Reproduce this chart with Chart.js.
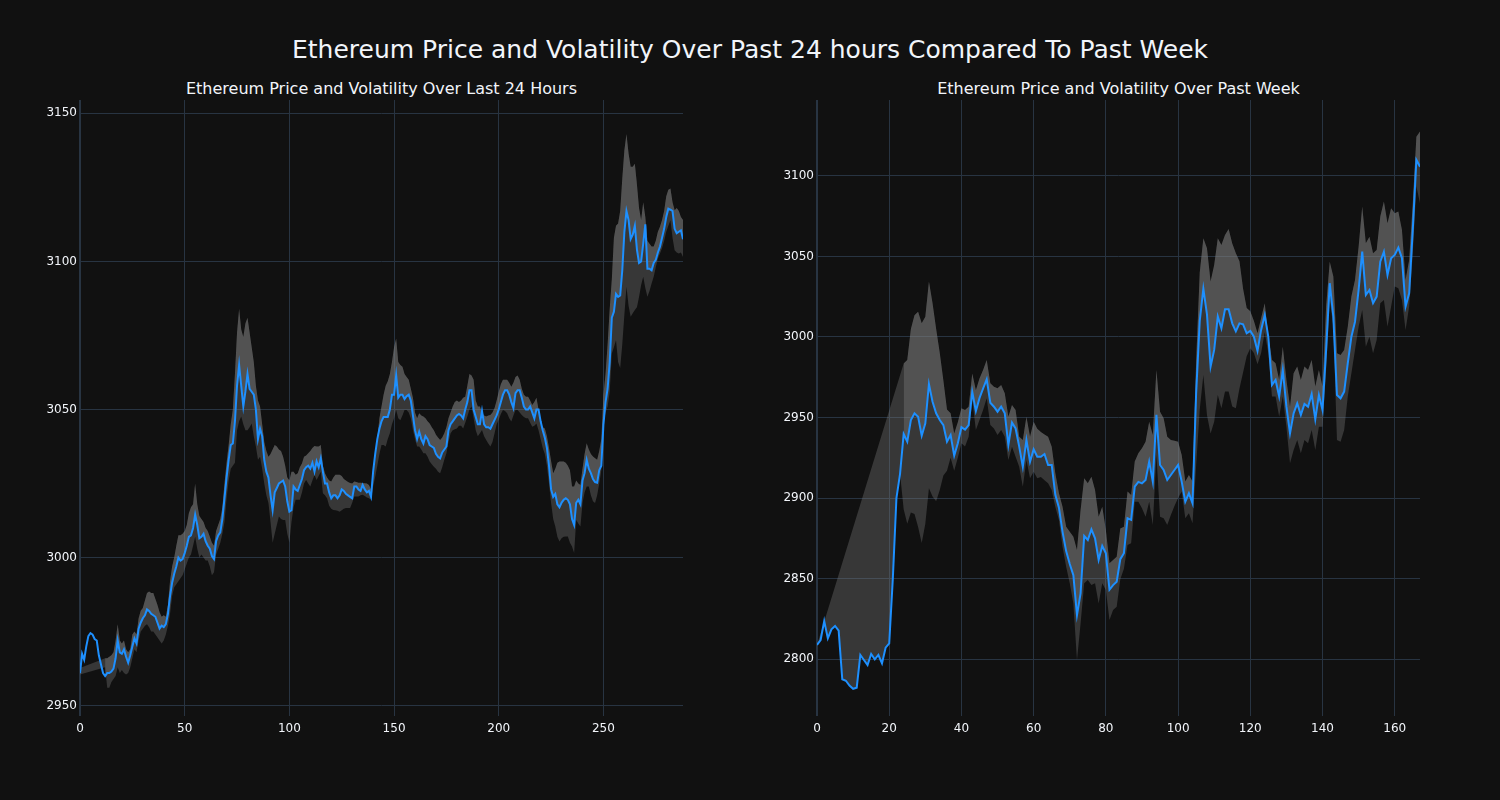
<!DOCTYPE html>
<html>
<head>
<meta charset="utf-8">
<script src="https://cdn.jsdelivr.net/npm/chart.js@4"></script>
<style>
  body { margin: 0; background: #111111; width: 1500px; height: 800px; overflow: hidden; font-family: 'DejaVu Sans', sans-serif; }
  .title { position: absolute; color: #f2f5fa; text-align: center; white-space: nowrap; }
  .box { position: absolute; top: 0; width: 750px; height: 800px; }
</style>
</head>
<body>
<div class="title" style="left:0;top:35px;width:1500px;font-size:25px;line-height:30px">Ethereum Price and Volatility Over Past 24 hours Compared To Past Week</div>
<div class="title" style="left:80px;top:79px;width:603px;font-size:16px;line-height:20px">Ethereum Price and Volatility Over Last 24 Hours</div>
<div class="title" style="left:817px;top:79px;width:603px;font-size:16px;line-height:20px">Ethereum Price and Volatility Over Past Week</div>
<div class="box" style="left:0"><canvas id="day"></canvas></div>
<div class="box" style="left:750px"><canvas id="week"></canvas></div>
<script>
// last 24 hours, 5 minute steps (index 0..288)
var dayPrice = [
  2961, 2967.5, 2965.5, 2970, 2973.5, 2974.5, 2974, 2972.5, 2972, 2967, 2964, 2961,
  2960, 2961, 2961, 2961.5, 2962.5, 2966, 2972, 2968, 2967.5, 2969, 2966.5, 2964.5,
  2967, 2970, 2972.7, 2971, 2976, 2978, 2979.5, 2980.5, 2982.5, 2982, 2981, 2980.5,
  2980, 2978, 2976, 2977, 2976.5, 2977.5, 2981, 2987, 2991.5, 2994.5, 2997, 3000,
  2999, 2999.5, 3001.5, 3004, 3007, 3007.5, 3010, 3014.5, 3011, 3006.5, 3007, 3008,
  3005.5, 3004, 3003, 3000.5, 2999.5, 3005.5, 3007.5, 3008.5, 3013, 3020, 3027, 3033,
  3038, 3038.5, 3046, 3058, 3065, 3058, 3051, 3056, 3062, 3057, 3056, 3055,
  3050, 3040, 3043.5, 3041, 3033, 3029, 3027, 3021, 3016, 3022, 3023.5, 3025,
  3025.5, 3026, 3024, 3019, 3015.5, 3016, 3024, 3023, 3022.5, 3024.5, 3026.5, 3029.5,
  3030.5, 3031, 3030, 3032, 3029, 3032.5, 3030.5, 3033.5, 3029, 3025, 3025, 3022,
  3020, 3021, 3021, 3020, 3021, 3023, 3022.5, 3021.5, 3021, 3020.5, 3020, 3024,
  3024, 3023, 3022.5, 3024.5, 3023, 3022, 3022.5, 3020.5, 3029, 3035, 3040, 3043.5,
  3046, 3047.5, 3047.5, 3047.5, 3050, 3055, 3055, 3061.5, 3054, 3055, 3055, 3053.5,
  3054.5, 3055, 3053, 3048, 3043, 3040, 3042.5, 3040, 3038.5, 3041, 3040, 3038,
  3037.5, 3037, 3035, 3034, 3033.5, 3035.5, 3036.5, 3037.5, 3043, 3045, 3046, 3047,
  3048, 3048.5, 3048, 3047, 3050, 3052.5, 3056.5, 3056.5, 3050, 3047.5, 3045, 3045,
  3049.5, 3045, 3044, 3044, 3043.5, 3045, 3046.5, 3048, 3050, 3052.5, 3055, 3056.5,
  3056.5, 3055, 3052.5, 3050.5, 3055.5, 3056.5, 3056.5, 3054, 3051, 3050, 3050, 3051,
  3049, 3047, 3050, 3050, 3046, 3043, 3040.5, 3037, 3031, 3023, 3020.5, 3021.5,
  3018, 3017, 3018.5, 3019.5, 3020, 3019.5, 3018, 3013, 3011, 3018.5, 3019.5, 3018,
  3026, 3028.5, 3033, 3030, 3028.5, 3026.5, 3025.5, 3025.3, 3029.5, 3031, 3045, 3052.5,
  3057, 3066, 3081, 3083, 3089, 3088, 3088.5, 3097, 3110, 3117, 3114, 3107.5,
  3109, 3112, 3104, 3099.5, 3100, 3106, 3112.5, 3097.5, 3097.5, 3097, 3099.5, 3100.5,
  3103, 3105, 3108, 3111, 3115, 3117.8, 3117.5, 3117, 3111, 3109.5, 3110, 3110.5, 3107.5
];
var dayUpper = [
  2962.7, null, null, null, null, null, null, null, null, null, null, null,
  2966, 2966, 2966.5, 2967, 2968, 2972, 2977.5, 2972, 2971, 2972, 2969, 2968,
  2969, 2974, 2975, 2974, 2979.5, 2982, 2983, 2985.5, 2988, 2988.5, 2988, 2988,
  2986, 2984, 2981.5, 2980, 2980.5, 2980, 2984, 2992, 2997, 3000, 3004, 3007.5,
  3007.5, 3008, 3009, 3011, 3015, 3017, 3018, 3025, 3018, 3014, 3013, 3012,
  3010, 3009, 3007, 3005, 3004, 3009, 3011, 3013, 3017, 3025, 3032, 3038,
  3045, 3050, 3062, 3076, 3084, 3077, 3074.5, 3079, 3081, 3076, 3071, 3066,
  3058, 3053, 3051, 3045, 3039, 3036, 3034, 3035, 3036.5, 3038, 3037.5, 3036.5,
  3036, 3034, 3031, 3027, 3026, 3029, 3029, 3028, 3028.5, 3030.5, 3031.8, 3034,
  3034.5, 3035.2, 3036, 3037, 3037.7, 3037.5, 3037.5, 3038, 3031, 3028.5, 3027, 3026,
  3025.7, 3027, 3028, 3028, 3028, 3027.5, 3026.5, 3026, 3025.5, 3025.2, 3025, 3025.7,
  3025.5, 3025.3, 3025.3, 3025.2, 3025.1, 3025, 3024.5, 3023, 3029, 3033, 3040, 3047,
  3051, 3055, 3058, 3059.5, 3062, 3066, 3071, 3074, 3066, 3065, 3064.4, 3062,
  3061, 3060, 3057, 3054, 3049, 3047, 3048.7, 3048, 3047.6, 3047, 3046, 3045.3,
  3044, 3043, 3041.5, 3040.5, 3039.7, 3040.5, 3042, 3044, 3047, 3049, 3051, 3052.5,
  3053, 3052.5, 3053, 3054, 3054.3, 3058, 3062, 3061.5, 3060, 3053, 3051, 3051,
  3049, 3048, 3047.6, 3048, 3048.1, 3049, 3050.5, 3053, 3056, 3058.5, 3060, 3060,
  3060, 3059, 3057.7, 3059, 3061, 3061.5, 3060, 3057, 3055, 3054.3, 3054.3, 3053,
  3051.5, 3052.5, 3054, 3050, 3046, 3044, 3043.6, 3041, 3037, 3032.5, 3028.5, 3030,
  3032, 3032.4, 3032.4, 3032.4, 3032, 3031, 3029.5, 3024, 3024, 3026, 3025, 3024.5,
  3030, 3035, 3038.6, 3036.5, 3035, 3034.1, 3033.5, 3033, 3036, 3040, 3055, 3062,
  3072, 3084, 3094, 3108, 3112, 3112.8, 3117, 3128, 3137.5, 3143, 3136.4, 3132,
  3132, 3133, 3126, 3118, 3114, 3120, 3115, 3107, 3106, 3105, 3105, 3107,
  3110, 3111.7, 3114, 3117, 3122, 3124.2, 3124.6, 3120, 3117.3, 3118, 3117, 3115, 3114
];
var dayLower = [
  2960.5, null, null, null, null, null, null, null, null, null, null, null,
  2963, 2956, 2956, 2958, 2959, 2960, 2963, 2961, 2962, 2961, 2960.5, 2961,
  2963, 2966, 2969, 2968, 2972, 2975, 2976, 2977, 2977.5, 2976.5, 2975, 2975,
  2974, 2973, 2972, 2971, 2972, 2974, 2977, 2981, 2987, 2990, 2991, 2992,
  2993, 2994, 2996, 2998, 3000, 3001, 3004, 3007, 3003, 3000, 3001, 3000,
  2999, 2999, 2997, 2994, 2995, 3001, 3003, 3005, 3008, 3012, 3020, 3026,
  3030, 3031, 3032, 3043, 3046, 3047.6, 3045, 3043, 3043, 3044, 3045.3, 3041,
  3037.5, 3033, 3034, 3030, 3025, 3021, 3018.4, 3012, 3005, 3008, 3011, 3013.9,
  3013, 3012.7, 3012.7, 3008, 3005, 3012, 3017, 3019.5, 3019.5, 3019.5, 3022, 3025,
  3026.2, 3025, 3024, 3026, 3027.9, 3026.2, 3027.5, 3029, 3021.7, 3021, 3020, 3017.5,
  3016.5, 3016.1, 3016, 3015.8, 3015.5, 3016, 3016.5, 3016.7, 3016.7, 3016.7, 3018.5, 3020.6,
  3020.6, 3020.6, 3021, 3021.2, 3020.8, 3020.3, 3020, 3019.5, 3024, 3027.3, 3031, 3035,
  3038, 3038, 3037.5, 3040, 3042, 3045, 3047, 3049.8, 3047, 3046.4, 3048, 3049.8,
  3049.8, 3049, 3047, 3043.1, 3040, 3037.5, 3037.5, 3036.5, 3035.2, 3035.2, 3034, 3032.4,
  3031.5, 3030.7, 3030, 3029, 3028.5, 3030.5, 3033, 3035.2, 3039, 3042, 3043, 3043.3,
  3043.6, 3044.5, 3044.5, 3043.6, 3045.5, 3047.6, 3050, 3051, 3047, 3043, 3041, 3042,
  3043.1, 3041, 3039.7, 3038.5, 3037.5, 3039, 3042, 3045, 3046.5, 3048.5, 3049.8, 3049.5,
  3048.7, 3047, 3045.9, 3048, 3049.8, 3049.8, 3049, 3048.1, 3047.5, 3047, 3047, 3045.5,
  3044.2, 3044.5, 3045.3, 3043, 3040, 3037, 3035, 3031, 3025, 3018.4, 3013, 3010.5,
  3007, 3005.4, 3006.5, 3007, 3007.1, 3007.1, 3005, 3003.7, 3001.5, 3012.7, 3011.5, 3010.5,
  3018.4, 3022, 3024, 3024, 3021, 3019, 3018.4, 3021, 3025, 3029.6, 3045, 3049,
  3051, 3056, 3068.9, 3071, 3073.4, 3066, 3064, 3072, 3082, 3091.4, 3085, 3081.3,
  3082.5, 3083.6, 3084.5, 3088, 3092, 3094.8, 3091, 3088.1, 3090, 3092.5, 3094.8, 3098,
  3101, 3102.7, 3104.5, 3107, 3110, 3112, 3113.9, 3108, 3103.8, 3103, 3102.7, 3103, 3101.5
];

// past week, hourly (index 0..167)
var weekPrice = [
  2808.7, 2811.8, 2823.5, 2812.8, 2818.4, 2820.5, 2817.6, 2787.4, 2786.5, 2783.5, 2781.5, 2782.2,
  2802.5, 2799.4, 2796.3, 2803.1, 2799.8, 2802.5, 2797.3, 2807, 2809.7, 2850, 2900, 2915,
  2939.7, 2935, 2948.4, 2952.6, 2950.5, 2938.7, 2946.4, 2970.8, 2959.8, 2952.6, 2948.4, 2945.3,
  2935, 2939.1, 2926.3, 2934, 2944, 2942.5, 2945.3, 2966, 2954, 2962, 2968, 2973.7,
  2959.2, 2956.7, 2953.6, 2956.7, 2952.6, 2932.9, 2946.8, 2943.2, 2931.9, 2919.4, 2936, 2922.5,
  2930.2, 2925.6, 2925.6, 2927.3, 2920.5, 2920.5, 2902, 2894, 2879, 2867, 2859, 2852,
  2827.3, 2840.8, 2876.4, 2873.9, 2880.5, 2875, 2861.5, 2870.2, 2865.6, 2843, 2845.9, 2848,
  2862, 2865.7, 2887.4, 2886.4, 2907.1, 2910, 2909.1, 2911.2, 2922.6, 2910.2, 2951.6, 2920.5,
  2917.4, 2911.2, 2914.3, 2917.4, 2920.5, 2910.2, 2897.7, 2902.9, 2896.7, 2965, 3010, 3030,
  3014, 2981.6, 2992, 3012.7, 3005.4, 3017.2, 3017.2, 3008.5, 3003.5, 3008.5, 3007.9, 3002.3,
  3003.8, 3000.2, 2991.3, 3004.4, 3013.7, 3000, 2970.2, 2973.3, 2963, 2979.5, 2956.7, 2940.2,
  2952.6, 2958.8, 2951.6, 2958.4, 2956.7, 2964.6, 2948.9, 2964, 2954.7, 2992, 3033.4, 3012.6,
  2964, 2961.9, 2966.1, 2983.7, 3000.2, 3009.5, 3029.2, 3053, 3026.1, 3029.2, 3021, 3025.1,
  3046.8, 3053, 3038.5, 3048.9, 3051, 3055.5, 3048.9, 3018.9, 3027.1, 3066.5, 3110, 3105.8
];
var weekUpper = [
  2808.7, null, null, null, null, null, null, null, null, null, null, null,
  null, null, null, null, null, null, null, null, null, null, null, null,
  2983.6, 2985.7, 3005, 3013.5, 3015.7, 3008.5, 3012.6, 3034.4, 3021, 3005, 2990, 2973,
  2955, 2952.6, 2940, 2947, 2955.7, 2954.6, 2956.7, 2977.4, 2967, 2974.3, 2979.5, 2985.7,
  2971.2, 2969.1, 2968.1, 2970.2, 2965, 2950.5, 2957.7, 2954.6, 2938, 2936, 2950.5, 2938.1,
  2947.4, 2943, 2941, 2939.5, 2938.1, 2931.9, 2915.3, 2902.9, 2894.6, 2882.2, 2879.1, 2876,
  2867.7, 2892.5, 2912.2, 2909.1, 2913.2, 2905, 2888.4, 2894.6, 2880.1, 2859.4, 2861.5, 2863.5,
  2881, 2882.2, 2904, 2901.9, 2922.6, 2927.8, 2930.9, 2935, 2947.4, 2939.2, 2979.5, 2953.6,
  2949.5, 2938.1, 2936, 2935.5, 2935, 2926.7, 2910.2, 2914.3, 2910.2, 2985, 3040, 3061.3,
  3055.1, 3034.4, 3044.7, 3061.3, 3057.2, 3063.4, 3067, 3058, 3052, 3047, 3030, 3018,
  3016, 3010, 3002.3, 3011.6, 3021, 3000.2, 2985.7, 2983.7, 2973.3, 2994, 2973.3, 2956.7,
  2977.5, 2981.6, 2973.3, 2981.6, 2979.5, 2985.7, 2969.2, 2979.5, 2969.2, 3018.9, 3046.8, 3037.5,
  2989.9, 2988.8, 2992, 3006.4, 3025.1, 3035.4, 3056.1, 3081, 3058.2, 3062.3, 3052, 3054,
  3074.8, 3084.1, 3070.6, 3079.9, 3076.8, 3077.9, 3066.5, 3035.4, 3047.8, 3083, 3124.4, 3127.6
];
var weekLower = [
  2808.7, 2811.8, 2823.5, 2812.8, 2818.4, 2820.5, 2817.6, 2787.4, 2786.5, 2783.5, 2781.5, 2782.2,
  2802.5, 2799.4, 2796.3, 2803.1, 2799.8, 2802.5, 2797.3, 2807, 2809.7, 2850, 2900, 2915,
  2893, 2884, 2891, 2890, 2882, 2872, 2884, 2906, 2901, 2898, 2905, 2914,
  2917, 2925, 2917, 2925, 2934, 2932, 2938.1, 2960.8, 2942.2, 2948.4, 2954.6, 2961.9,
  2945.3, 2943.2, 2939.1, 2942.2, 2938.1, 2923.6, 2931.9, 2925.6, 2919.4, 2907, 2923.6, 2912.2,
  2916.3, 2912.2, 2913, 2911, 2909.1, 2905, 2894.6, 2886.3, 2869.7, 2857.3, 2847, 2834.5,
  2799.3, 2822.1, 2847, 2849, 2845.9, 2847, 2834.5, 2847, 2842.8, 2824.2, 2830.4, 2832.5,
  2849.5, 2856, 2870.8, 2871.9, 2897.7, 2897.7, 2893.6, 2888.4, 2897.7, 2883.3, 2926.7, 2888.4,
  2887.4, 2883.3, 2889.5, 2895, 2900, 2904, 2887.4, 2890.5, 2884.3, 2920, 2955, 2976.4,
  2951.6, 2940, 2947.4, 2964, 2955.7, 2966.1, 2966.1, 2956.8, 2955.7, 2968, 2978, 2988,
  2993, 2990, 2983, 2990, 3003, 2989.9, 2963, 2963, 2950.5, 2963, 2944.3, 2921.6,
  2929.8, 2936, 2927.8, 2936, 2934, 2942.2, 2929.8, 2944.3, 2944.3, 2979.5, 3023, 3006.4,
  2936, 2935, 2942.2, 2963, 2977.5, 2992, 3006.4, 3016.8, 2994, 3000.2, 2989.9, 2998.2,
  3020.9, 3023, 3006.4, 3018.9, 3031.3, 3030.2, 3023, 3004.4, 3018.9, 3052, 3093.4, 3083
];

var GRID = '#283442';
var TEXT = '#f2f5fa';
var LINE = '#1e90ff';
var BAND = 'rgba(128,128,128,0.34)';
var BAND_TOP = 'rgba(128,128,128,0.38)';

function pts(arr) {
    return arr.map(function (v, i) { return {x: i, y: v}; });
}

// keep only round ticks (multiples of step) inside the axis range
function onStep(step) {
    return function (scale) {
        var ticks = [];
        for (var v = Math.ceil(scale.min / step) * step; v <= scale.max; v += step) {
            ticks.push({value: v});
        }
        scale.ticks = ticks;
    };
}

function makeChart(id, price, upper, lower, windowStart, opts) {
    var upperTop = upper.map(function (v, i) { return i < windowStart ? null : v; });
    var font = {family: 'DejaVu Sans', size: 12};

    return new Chart(document.getElementById(id), {
        type: 'line',
        data: {
            datasets: [
                {data: pts(price), borderColor: LINE, borderWidth: 2, pointRadius: 0, fill: false},
                {data: pts(upper), borderColor: 'transparent', borderWidth: 0, pointRadius: 0,
                 spanGaps: true, fill: {target: 2}, backgroundColor: BAND},
                {data: pts(lower), borderColor: 'transparent', borderWidth: 0, pointRadius: 0,
                 spanGaps: true, fill: false},
                {data: pts(upperTop), borderColor: 'transparent', borderWidth: 0, pointRadius: 0,
                 fill: {target: 0}, backgroundColor: BAND_TOP}
            ]
        },
        options: {
            responsive: true,
            maintainAspectRatio: false,
            animation: false,
            layout: {padding: {top: 100, right: opts.padRight, bottom: 0, left: 0}},
            plugins: {legend: {display: false}, tooltip: {enabled: false}},
            elements: {line: {tension: 0}},
            scales: {
                x: {
                    type: 'linear', min: 0, max: opts.xMax,
                    afterBuildTicks: onStep(opts.xStep),
                    afterFit: function (s) { s.height = 84; },
                    ticks: {color: TEXT, font: font, padding: 6, maxRotation: 0, autoSkip: false,
                            callback: function (v) { return String(v); }},
                    grid: {color: GRID, drawTicks: false,
                           lineWidth: function (c) { return c.tick && c.tick.value === 0 ? 2 : 1; }},
                    border: {display: false}
                },
                y: {
                    min: opts.yMin, max: opts.yMax,
                    afterBuildTicks: onStep(50),
                    afterFit: function (s) { s.width = opts.yWidth; },
                    ticks: {color: TEXT, font: font, padding: 3,
                            callback: function (v) { return String(v); }},
                    grid: {color: GRID, drawTicks: false},
                    border: {display: false}
                }
            }
        }
    });
}

makeChart('day', dayPrice, dayUpper, dayLower, 12,
    {xMax: 288, xStep: 50, yMin: 2946.5, yMax: 3154.5, yWidth: 80, padRight: 67});
makeChart('week', weekPrice, weekUpper, weekLower, 24,
    {xMax: 167, xStep: 20, yMin: 2764.6, yMax: 3147.2, yWidth: 67, padRight: 80});
</script>
</body>
</html>
